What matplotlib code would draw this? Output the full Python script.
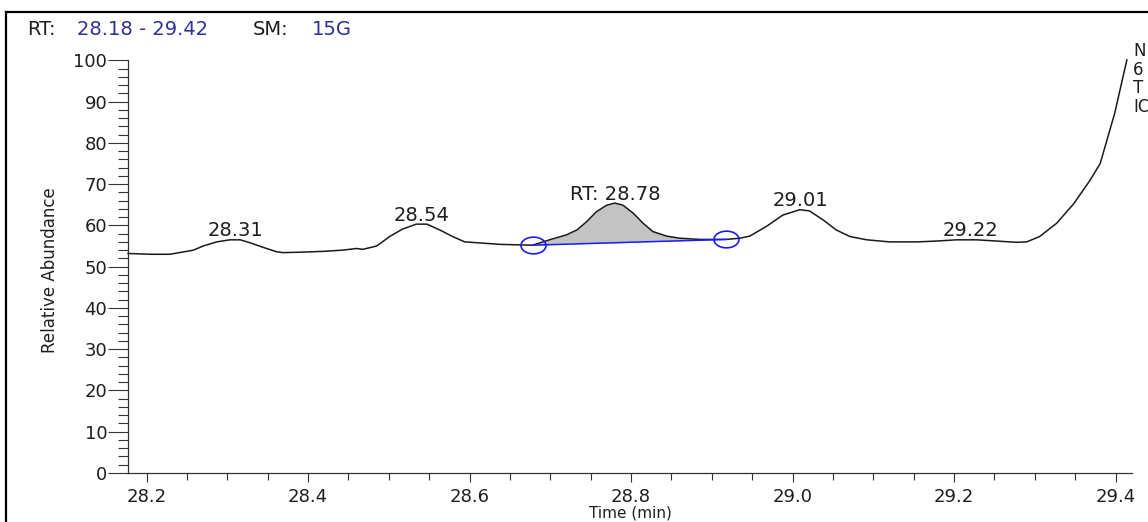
import numpy as np
import matplotlib
matplotlib.use("Agg")
import matplotlib.pyplot as plt
from matplotlib.lines import Line2D
from matplotlib.path import Path

# ---------------- data ----------------
time_min = [28.177, 28.204, 28.229, 28.258, 28.270, 28.287, 28.303, 28.316, 28.328, 28.344,
            28.361, 28.369, 28.390, 28.418, 28.443, 28.460, 28.468, 28.485, 28.501, 28.517,
            28.534, 28.547, 28.563, 28.579, 28.594, 28.616, 28.638, 28.657, 28.678, 28.699,
            28.720, 28.733, 28.745, 28.757, 28.770, 28.780, 28.790, 28.803, 28.815, 28.827,
            28.844, 28.860, 28.885, 28.901, 28.918, 28.935, 28.947, 28.968, 28.988, 29.009,
            29.021, 29.038, 29.054, 29.071, 29.092, 29.120, 29.154, 29.178, 29.203, 29.228,
            29.253, 29.277, 29.290, 29.306, 29.327, 29.348, 29.368, 29.381, 29.399, 29.414]
abundance = [53.2, 53.0, 53.0, 54.0, 55.0, 56.0, 56.5, 56.5, 55.8, 54.7,
             53.6, 53.4, 53.5, 53.7, 54.0, 54.4, 54.2, 55.0, 57.3, 59.1,
             60.3, 60.3, 58.9, 57.3, 56.0, 55.7, 55.4, 55.3, 55.2, 56.5,
             57.7, 58.9, 60.9, 63.3, 64.9, 65.4, 64.9, 62.9, 60.5, 58.5,
             57.4, 56.9, 56.6, 56.6, 56.6, 56.9, 57.4, 59.8, 62.5, 63.8,
             63.5, 61.3, 58.9, 57.3, 56.5, 56.0, 56.0, 56.2, 56.5, 56.5,
             56.2, 55.9, 56.0, 57.3, 60.5, 65.2, 70.8, 75.0, 87.2, 100.1]

peak_rts = [28.31, 28.54, 28.78, 29.01, 29.22]
peak_labels = ["28.31", "28.54", "RT: 28.78", "29.01", "29.22"]

# integration of the RT 28.78 peak (start / end points of baseline)
integ_start = (28.678, 55.2)
integ_end = (28.918, 56.6)

x_range = (28.177, 29.42)
y_range = (0, 100)
x_major = [28.2, 28.4, 28.6, 28.8, 29.0, 29.2, 29.4]
x_major_labels = ["28.2", "28.4", "28.6", "28.8", "29.0", "29.2", "29.4"]

header_parts = [("RT:", "black"), ("28.18 - 29.42", "blue"), ("SM:", "black"), ("15G", "blue")]

# ---------------- style ----------------
W, H = 1148, 522
fig = plt.figure(figsize=(W / 100, H / 100), dpi=100)
plt.rcParams['font.family'] = ['DejaVu Sans']
TXT = '#1e1e1e'
HBLUE = '#2f3196'
BLUE = '#1a1aff'

ax = fig.add_axes([128 / W, 1 - 473 / H, (1131.7 - 128) / W, (473 - 60.3) / H])
ax.set_xlim(*x_range)
ax.set_ylim(*y_range)

t = np.array(time_min)
a = np.array(abundance)

# shaded integrated peak
m = (t >= integ_start[0]) & (t <= integ_end[0])
base = np.interp(t[m], [integ_start[0], integ_end[0]], [integ_start[1], integ_end[1]])
ax.fill_between(t[m], base, a[m], where=a[m] >= base, color='#c3c3c3', linewidth=0, zorder=1)

ax.plot(t, a, color='#1a1a1a', lw=1.1, zorder=3, clip_on=False, solid_joinstyle='round')

# baseline and integration markers
ax.plot([integ_start[0], integ_end[0]], [integ_start[1], integ_end[1]], color=BLUE, lw=1.1, zorder=4)
theta = np.linspace(0, 2 * np.pi, 61)
ell = Path(np.column_stack([1.5 * np.cos(theta), np.sin(theta)]))
ax.plot([integ_start[0], integ_end[0]], [integ_start[1], integ_end[1]], linestyle='none',
        marker=ell, markersize=18, markerfacecolor='none', markeredgecolor=BLUE,
        markeredgewidth=1.2, zorder=5)

# peak labels
for rt, lab in zip(peak_rts, peak_labels):
    yv = np.interp(rt, t, a)
    ax.annotate(lab, (rt, yv), xytext=(0, 2.5), textcoords='offset points',
                ha='center', va='baseline', fontsize=14, color=TXT, zorder=6)

# spines / ticks
for s in ('top', 'right'):
    ax.spines[s].set_visible(False)
for s in ('left', 'bottom'):
    ax.spines[s].set_linewidth(0.9)
    ax.spines[s].set_color('#333333')

ax.set_yticks(np.arange(0, 101, 10))
ax.set_yticks(np.arange(0, 101, 2), minor=True)
ax.set_xticks(x_major)
ax.set_xticklabels(x_major_labels)
ax.set_xticks(np.arange(28.20, 29.42, 0.05), minor=True)
ax.tick_params(axis='y', which='major', direction='out', length=14.4, width=0.8,
               pad=0.5, labelsize=13, colors='#333333', labelcolor=TXT)
ax.tick_params(axis='y', which='minor', direction='out', length=7.2, width=0.8, colors='#333333')
ax.tick_params(axis='x', which='major', direction='out', length=6.5, width=0.8,
               pad=4, labelsize=13, colors='#333333', labelcolor=TXT)
ax.tick_params(axis='x', which='minor', direction='out', length=4.7, width=0.8, colors='#333333')

fig.text(630 / W, 1 - 520 / H, "Time (min)", ha='center', va='bottom', fontsize=11, color=TXT)
fig.text(50 / W, 1 - 270 / H, "Relative Abundance", rotation=90, ha='center', va='center',
         fontsize=12, color=TXT)

# header
hx = [27, 77, 253, 312]
for (txt, col), x in zip(header_parts, hx):
    fig.text(x / W, 1 - 35 / H, txt, ha='left', va='baseline', fontsize=14,
             color=(TXT if col == 'black' else HBLUE))

# cut-off info text at right edge
fig.text(1133 / W, 1 - 42 / H, "N\n6\nT\nIC", ha='left', va='top', fontsize=12,
         color=TXT, linespacing=1.05)

# outer frame (left and top edges visible)
fig.add_artist(Line2D([6 / W, 6 / W], [0, 1 - 12 / H], color='black', lw=1.6))
fig.add_artist(Line2D([6 / W, 1], [1 - 12 / H, 1 - 12 / H], color='black', lw=1.6))

fig.savefig("out.png", dpi=100)
